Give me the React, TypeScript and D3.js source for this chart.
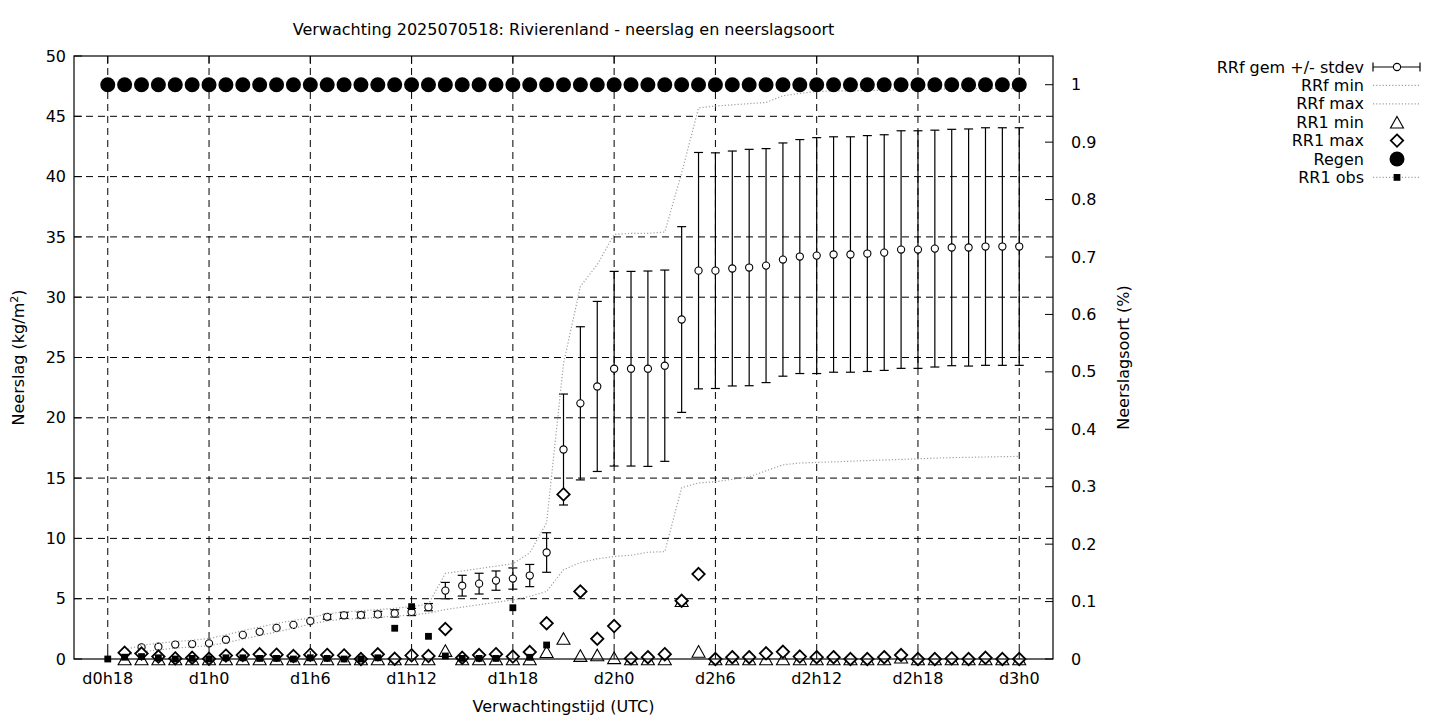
import React from "react";
import * as d3 from "d3";

// ---- data (index 0 = d0h18, one value per hour up to d3h0) ----
const hours: number[] = d3.range(18, 73);

const xTickHours = [18, 24, 30, 36, 42, 48, 54, 60, 66, 72];
const xTickLabels = ["d0h18", "d1h0", "d1h6", "d1h12", "d1h18", "d2h0", "d2h6", "d2h12", "d2h18", "d3h0"];
const yTicks = [0, 5, 10, 15, 20, 25, 30, 35, 40, 45, 50];
const y2Ticks = [0, 0.1, 0.2, 0.3, 0.4, 0.5, 0.6, 0.7, 0.8, 0.9, 1];
const y2TickLabels = ["0", "0.1", "0.2", "0.3", "0.4", "0.5", "0.6", "0.7", "0.8", "0.9", "1"];

// RRf gem (cumulative mean) and stdev
const rrfMean: (number | null)[] = [
  null, 0.55, 0.97, 1.02, 1.2, 1.24, 1.3, 1.6, 2.0, 2.25, 2.58, 2.83, 3.15, 3.5, 3.62, 3.64, 3.7, 3.78, 3.9,
  4.3, 5.67, 6.08, 6.25, 6.5, 6.67, 6.92, 8.83, 17.37, 21.2, 22.6, 24.07, 24.07, 24.07, 24.32, 28.15,
  32.2, 32.2, 32.38, 32.46, 32.62, 33.12, 33.37, 33.45, 33.54, 33.54, 33.62, 33.7, 33.95, 33.95, 34.03,
  34.12, 34.12, 34.2, 34.2, 34.2,
];
const rrfStdev: (number | null)[] = [
  null, 0, 0, 0, 0, 0, 0, 0, 0, 0, 0, 0, 0, 0.2, 0.25, 0.25, 0.25, 0.3, 0.3,
  0.3, 0.68, 0.86, 0.86, 0.8, 0.88, 0.92, 1.64, 4.6, 6.35, 7.05, 8.07, 8.07, 8.1, 7.93, 7.7,
  9.8, 9.77, 9.74, 9.8, 9.7, 9.67, 9.7, 9.78, 9.76, 9.76, 9.78, 9.77, 9.85, 9.85, 9.82,
  9.8, 9.83, 9.85, 9.85, 9.85,
];
// RRf min / max (cumulative)
const rrfMin: (number | null)[] = [
  null, 0.3, 0.6, 0.75, 0.9, 1.0, 1.1, 1.35, 1.65, 1.95, 2.25, 2.55, 2.9, 3.15, 3.3, 3.35, 3.45, 3.55, 3.65,
  3.8, 4.1, 4.3, 4.5, 4.7, 4.9, 5.2, 5.6, 7.4, 8.0, 8.3, 8.5, 8.6, 8.85, 8.9, 14.2,
  14.6, 14.7, 14.9, 15.1, 15.6, 16.1, 16.25, 16.3, 16.35, 16.4, 16.45, 16.5, 16.55, 16.6, 16.65,
  16.7, 16.72, 16.75, 16.78, 16.8,
];
const rrfMax: (number | null)[] = [
  null, 0.75, 1.15, 1.3, 1.45, 1.55, 1.7, 2.0, 2.35, 2.65, 2.95, 3.2, 3.4, 3.75, 3.9, 4.0, 4.1, 4.2, 4.35,
  4.55, 7.1, 7.3, 7.5, 7.7, 7.9, 8.8, 11.3, 24.5, 30.9, 32.7, 35.2, 35.3, 35.3, 35.4, 40.3,
  45.7, 45.85, 45.95, 46.05, 46.15, 46.7, 46.9, 47.05, 47.1, 47.1, 47.15, 47.15, 47.2, 47.2, 47.25,
  47.25, 47.3, 47.3, 47.3, 47.3,
];
// RR1 min / max (hourly)
const rr1Min: (number | null)[] = [
  null, 0, 0, 0, 0, 0, 0, 0, 0, 0, 0, 0, 0, 0, 0, 0, 0, 0, 0,
  0, 0.7, 0, 0, 0, 0, 0, 0.6, 1.7, 0.28, 0.33, 0.1, 0, 0, 0, 4.83,
  0.63, 0, 0, 0, 0, 0, 0, 0, 0, 0, 0, 0, 0.15, 0, 0,
  0, 0, 0, 0, 0,
];
const rr1Max: (number | null)[] = [
  null, 0.52, 0.45, 0.2, 0.05, 0.1, 0.02, 0.28, 0.33, 0.39, 0.36, 0.25, 0.36, 0.34, 0.3, 0.0, 0.39, 0.02, 0.3,
  0.25, 2.49, 0.1, 0.33, 0.4, 0.2, 0.58, 2.96, 13.65, 5.6, 1.68, 2.73, 0.05, 0.15, 0.4, 4.83,
  7.04, 0, 0.15, 0.15, 0.47, 0.6, 0.2, 0.15, 0.15, 0, 0, 0.15, 0.33, 0, 0,
  0.05, 0, 0.1, 0, 0,
];
// Regen (fraction, right axis)
const regen: number[] = [
  1, 1, 1, 1, 1, 1, 1, 1, 1, 1, 1, 1, 1, 1, 1, 1, 1, 1, 1,
  1, 1, 1, 1, 1, 1, 1, 1, 1, 1, 1, 1, 1, 1, 1, 1,
  1, 1, 1, 1, 1, 1, 1, 1, 1, 1, 1, 1, 1, 1, 1,
  1, 1, 1, 1, 1,
];
// RR1 obs (hourly observed)
const rr1Obs: (number | null)[] = [
  0, 0.15, 0.2, 0.1, 0.0, 0.05, 0.0, 0.1, 0.1, 0.05, 0.05, 0.0, 0.1, 0.05, 0.0, 0.0, 0.1, 2.55, 4.34,
  1.88, 0.25, 0.05, 0.05, 0.05, 4.25, 0.14, 1.16,
];

const legendLabels = ["RRf gem +/- stdev", "RRf min", "RRf max", "RR1 min", "RR1 max", "Regen", "RR1 obs"];

// ---- layout ----
const W = 1440, H = 720;
const L = 74, R = 1053, T = 56, B = 659;
const FONT = "'DejaVu Sans', Verdana, sans-serif";
const FS = 16;
const DOT = "#a0a0a0";

const x = d3.scaleLinear().domain([16, 74]).range([L, R]);
const y = d3.scaleLinear().domain([0, 50]).range([B, T]);
const y2 = d3.scaleLinear().domain([0, 1.05]).range([B, T]);

function Diamond({ cx, cy }: { cx: number; cy: number }) {
  const s = 6.2;
  return <path d={`M${cx},${cy - s}L${cx + s},${cy}L${cx},${cy + s}L${cx - s},${cy}Z`} fill="#fff" stroke="#000" strokeWidth={1.8} />;
}
function Triangle({ cx, cy }: { cx: number; cy: number }) {
  const w = 6.5, h = 5.8;
  return <path d={`M${cx},${cy - h}L${cx + w},${cy + h}L${cx - w},${cy + h}Z`} fill="#fff" stroke="#000" strokeWidth={1.1} />;
}

export default function App() {
  const lineGen = d3
    .line<[number, number | null]>()
    .defined((d) => d[1] !== null)
    .x((d) => x(d[0]))
    .y((d) => y(d[1] as number));
  const minPath = lineGen(hours.map((h, i) => [h, rrfMin[i]]));
  const maxPath = lineGen(hours.map((h, i) => [h, rrfMax[i]]));

  const legendY = (i: number) => 67 + i * 18.4;
  const lx0 = 1373, lx1 = 1420, lxc = 1397;

  return (
    <svg width={W} height={H} style={{ position: "absolute", left: 0, top: 0, background: "#fff" }} fontFamily={FONT} fontSize={FS}>
      <rect x={0} y={0} width={W} height={H} fill="#fff" />
      {/* grid */}
      <g stroke="#000" strokeWidth={1} strokeDasharray="7,5">
        {yTicks.filter((v) => v > 0 && v < 50).map((v) => (
          <line key={"gy" + v} x1={L} x2={R} y1={y(v)} y2={y(v)} />
        ))}
        {xTickHours.map((h) => (
          <line key={"gx" + h} x1={x(h)} x2={x(h)} y1={T} y2={B} />
        ))}
      </g>

      {/* RRf gem +/- stdev */}
      <g stroke="#000" strokeWidth={1.2}>
        {hours.map((h, i) => {
          const m = rrfMean[i], s = rrfStdev[i];
          if (m === null || s === null || s <= 0) return null;
          const cx = x(h);
          return (
            <g key={"eb" + h}>
              <line x1={cx} x2={cx} y1={y(m - s)} y2={y(m + s)} />
              <line x1={cx - 4.5} x2={cx + 4.5} y1={y(m - s)} y2={y(m - s)} />
              <line x1={cx - 4.5} x2={cx + 4.5} y1={y(m + s)} y2={y(m + s)} />
            </g>
          );
        })}
      </g>
      <g fill="#fff" stroke="#000" strokeWidth={1.1}>
        {hours.map((h, i) => (rrfMean[i] === null ? null : <circle key={"m" + h} cx={x(h)} cy={y(rrfMean[i] as number)} r={3.6} />))}
      </g>

      {/* RRf min / max */}
      <path d={minPath || ""} fill="none" stroke={DOT} strokeWidth={1.2} strokeDasharray="1.2,2" />
      <path d={maxPath || ""} fill="none" stroke={DOT} strokeWidth={1.2} strokeDasharray="1.2,2" />

      {/* RR1 min */}
      {hours.map((h, i) => (rr1Min[i] === null ? null : <Triangle key={"t" + h} cx={x(h)} cy={y(rr1Min[i] as number)} />))}
      {/* RR1 max */}
      {hours.map((h, i) => (rr1Max[i] === null ? null : <Diamond key={"d" + h} cx={x(h)} cy={y(rr1Max[i] as number)} />))}
      {/* Regen */}
      <g fill="#000">
        {hours.map((h, i) => <circle key={"r" + h} cx={x(h)} cy={y2(regen[i])} r={7.5} />)}
      </g>
      {/* RR1 obs */}
      <g fill="#000">
        {rr1Obs.map((v, i) => (v === null ? null : <rect key={"o" + i} x={x(hours[i]) - 3.4} y={y(v) - 3.4} width={6.8} height={6.8} />))}
      </g>

      {/* border */}
      <rect x={L} y={T} width={R - L} height={B - T} fill="none" stroke="#000" strokeWidth={1.2} />
      {/* ticks */}
      <g stroke="#000" strokeWidth={1}>
        {yTicks.map((v) => (
          <line key={"ty" + v} x1={L} x2={L + 8} y1={y(v)} y2={y(v)} />
        ))}
        {y2Ticks.map((v) => (
          <line key={"ty2" + v} x1={R - 8} x2={R} y1={y2(v)} y2={y2(v)} />
        ))}
        {xTickHours.map((h) => (
          <g key={"tx" + h}>
            <line x1={x(h)} x2={x(h)} y1={B} y2={B - 8} />
            <line x1={x(h)} x2={x(h)} y1={T} y2={T + 8} />
          </g>
        ))}
      </g>

      {/* tick labels */}
      <g fill="#000">
        {yTicks.map((v) => (
          <text key={"ly" + v} x={66} y={y(v)} dy="0.35em" textAnchor="end">{v}</text>
        ))}
        {y2Ticks.map((v, i) => (
          <text key={"ly2" + v} x={1071} y={y2(v)} dy="0.35em" textAnchor="start">{y2TickLabels[i]}</text>
        ))}
        {xTickHours.map((h, i) => (
          <text key={"lx" + h} x={x(h)} y={678} dy="0.35em" textAnchor="middle">{xTickLabels[i]}</text>
        ))}
      </g>

      {/* titles */}
      <text x={(L + R) / 2} y={29} dy="0.35em" textAnchor="middle">Verwachting 2025070518: Rivierenland - neerslag en neerslagsoort</text>
      <text x={(L + R) / 2} y={706} dy="0.35em" textAnchor="middle">Verwachtingstijd (UTC)</text>
      <text transform={`translate(18,${(T + B) / 2}) rotate(-90)`} dy="0.35em" textAnchor="middle">
        Neerslag (kg/m<tspan dy="-6" fontSize={11}>2</tspan><tspan dy="6">)</tspan>
      </text>
      <text transform={`translate(1123,${(T + B) / 2}) rotate(-90)`} dy="0.35em" textAnchor="middle">Neerslagsoort (%)</text>

      {/* legend */}
      <g>
        {legendLabels.map((lab, i) => (
          <text key={"lg" + i} x={1364} y={legendY(i)} dy="0.35em" textAnchor="end">{lab}</text>
        ))}
        <g stroke="#000" strokeWidth={1.2}>
          <line x1={lx0} x2={lx1} y1={legendY(0)} y2={legendY(0)} />
          <line x1={lx0} x2={lx0} y1={legendY(0) - 4.5} y2={legendY(0) + 4.5} />
          <line x1={lx1} x2={lx1} y1={legendY(0) - 4.5} y2={legendY(0) + 4.5} />
        </g>
        <circle cx={lxc} cy={legendY(0)} r={3.6} fill="#fff" stroke="#000" strokeWidth={1.1} />
        <line x1={lx0} x2={lx1} y1={legendY(1)} y2={legendY(1)} stroke={DOT} strokeWidth={1.2} strokeDasharray="1.2,2" />
        <line x1={lx0} x2={lx1} y1={legendY(2)} y2={legendY(2)} stroke={DOT} strokeWidth={1.2} strokeDasharray="1.2,2" />
        <Triangle cx={lxc} cy={legendY(3)} />
        <Diamond cx={lxc} cy={legendY(4)} />
        <circle cx={lxc} cy={legendY(5)} r={7.5} fill="#000" />
        <line x1={lx0} x2={lx1} y1={legendY(6)} y2={legendY(6)} stroke={DOT} strokeWidth={1.2} strokeDasharray="1.2,2" />
        <rect x={lxc - 3.4} y={legendY(6) - 3.4} width={6.8} height={6.8} fill="#000" />
      </g>
    </svg>
  );
}
